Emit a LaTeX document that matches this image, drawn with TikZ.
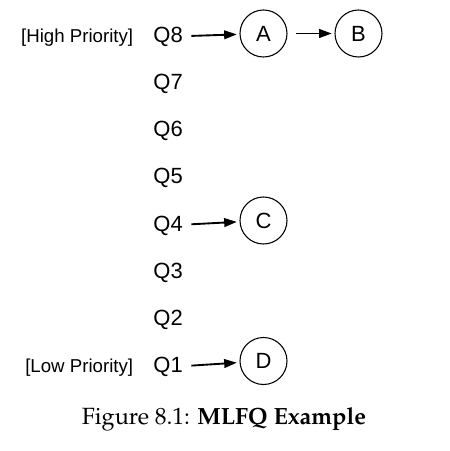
\documentclass[tikz,border=0pt]{standalone}
\usepackage[T1,TU]{fontenc}
\usepackage{fontspec}
\setsansfont{Liberation Sans}
\newcommand{\palfont}{\fontencoding{T1}\fontfamily{ppl}\selectfont}
\usetikzlibrary{arrows.meta,positioning}

\tikzset{every picture/.style={line width=0.75pt}}
\tikzset{
  qlabel/.style={inner sep=0pt, font=\sffamily\fontsize{16.5}{19}\selectfont},
  prio/.style={inner sep=0pt, font=\sffamily\fontsize{14}{17}\selectfont},
  job/.style={circle, draw, line width=0.8pt, minimum size=35.25pt, inner sep=0pt, font=\sffamily\fontsize{16.5}{19}\selectfont},
  qarrow/.style={-{Triangle[length=9.5pt,width=6.5pt]}, line width=1.4pt, shorten <=6pt, shorten >=2pt}
}

\begin{document}
\begin{tikzpicture}[x=0.75pt,y=0.75pt,yscale=-1,xscale=1]
\useasboundingbox (0,0) rectangle (450,451);
% Queues
\node [qlabel, anchor=base west] (q8) at (153,42.3) {Q8};
\node [qlabel, anchor=base west] (q7) at (153,89.5) {Q7};
\node [qlabel, anchor=base west] (q6) at (153,136.7) {Q6};
\node [qlabel, anchor=base west] (q5) at (153,183.9) {Q5};
\node [qlabel, anchor=base west] (q4) at (153,231.1) {Q4};
\node [qlabel, anchor=base west] (q3) at (153,278.3) {Q3};
\node [qlabel, anchor=base west] (q2) at (153,325.5) {Q2};
\node [qlabel, anchor=base west] (q1) at (153,372.7) {Q1};
% Priority labels
\node [prio, base left=14.5pt of q8] (high) {[High Priority]};
\node [prio, base left=14.5pt of q1] (low) {[Low Priority]};
% Jobs
\node [job] (jA) at (263.5,33.5) {A};
\node [job] (jB) at (358.5,33.5) {B};
\node [job] (jC) at (263.5,220.5) {C};
\node [job] (jD) at (263.5,361) {D};
% Arrows
\draw [qarrow] (q8) -- (jA);
\draw [qarrow] (jA) -- (jB);
\draw [qarrow] (q4) -- (jC);
\draw [qarrow] (q1) -- (jD);
% Caption
\node [inner sep=0pt, anchor=base, font=\palfont\fontsize{17.6}{21}\selectfont] (cap) at (224,424) {Figure 8.1: \textbf{MLFQ Example}};
\end{tikzpicture}
\end{document}
